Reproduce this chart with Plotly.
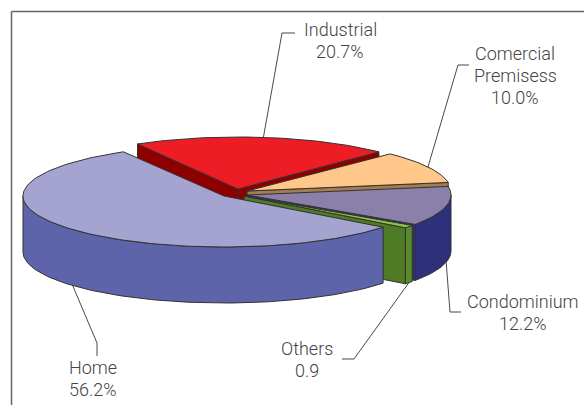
import math
import plotly.graph_objects as go

# ---- data ----
names = ["Home", "Others", "Condominium", "Comercial<br>Premisess", "Industrial"]
values = [56.2, 0.9, 12.2, 10.0, 20.7]
value_labels = ["56.2%", "0.9", "12.2%", "10.0%", "20.7%"]

# ---- pie geometry (pixel-based scene) ----
START_DEG = 120.0
DEPTH = 56
RX, RY = 204, 52
centers = [(224, 196), (244, 196), (247, 195), (247, 191), (238, 189)]
radii = [(201, 51), (RX, RY), (RX, RY), (RX, RY), (201, RY)]
top_col = ["#A5A3CF", "#8CC63F", "#8A80AA", "#FFC88A", "#EE1C25"]
wall_col = ["#5D64AA", "#5A8A2A", "#2E307A", "#A47C50", "#8E0000"]
cut_col = ["#5D64AA", "#4F7A26", "#2E307A", "#A47C50", "#8E0000"]
OUT = "#333333"

spans = []
a = START_DEG
for v in values:
    b = a + v / sum(values) * 360.0
    spans.append((a, b))
    a = b


def pt(i, deg, drop=0):
    cx, cy = centers[i]
    rx, ry = radii[i]
    t = math.radians(deg)
    return cx + rx * math.cos(t), cy - ry * math.sin(t) + drop


def arc(i, d0, d1, drop=0):
    n = max(2, int(abs(d1 - d0) / 1.5) + 2)
    return [pt(i, d0 + (d1 - d0) * k / (n - 1), drop) for k in range(n)]


fig = go.Figure()


def poly(points, fill, width=1.0):
    xs = [p[0] for p in points] + [points[0][0]]
    ys = [p[1] for p in points] + [points[0][1]]
    fig.add_trace(go.Scatter(x=xs, y=ys, mode="lines", fill="toself", fillcolor=fill,
                             line=dict(color=OUT, width=width), hoverinfo="skip",
                             showlegend=False))


def line(points, color="#333333", width=0.9):
    fig.add_trace(go.Scatter(x=[p[0] for p in points], y=[p[1] for p in points], mode="lines",
                             line=dict(color=color, width=width), hoverinfo="skip",
                             showlegend=False))


def cut_face(i, deg):
    c = centers[i]
    p = pt(i, deg)
    poly([c, p, (p[0], p[1] + DEPTH), (c[0], c[1] + DEPTH)], cut_col[i])


def wall(i, d0, d1):
    poly(arc(i, d0, d1) + arc(i, d1, d0, DEPTH), wall_col[i])


def top(i):
    a0, a1 = spans[i]
    poly([centers[i]] + arc(i, a0, a1), top_col[i])


HOME, OTHERS, CONDO, COMM, IND = 0, 1, 2, 3, 4

# back to front
cut_face(IND, spans[IND][1])
cut_face(IND, spans[IND][0])
top(IND)
cut_face(COMM, spans[COMM][0])
top(COMM)
cut_face(CONDO, spans[CONDO][0])
wall(CONDO, spans[CONDO][0], 360)
top(CONDO)
cut_face(OTHERS, spans[OTHERS][0])
wall(OTHERS, spans[OTHERS][0], spans[OTHERS][1])
top(OTHERS)
wall(HOME, 180, spans[HOME][1])
top(HOME)

# leader lines start at each slice's mid-angle on the rim
elbows = {
    HOME: ([(97, 343), (97, 356)], DEPTH),
    OTHERS: ([(354, 359), (342, 359)], DEPTH),
    CONDO: ([(450, 312), (461, 312)], DEPTH),
    COMM: ([(458, 65), (469, 65)], 0),
    IND: ([(282, 33), (295, 33)], 0),
}
for i, (pts, drop) in elbows.items():
    mid = sum(spans[i]) / 2
    line([pt(i, mid, drop)] + pts)

# label centre x and y of the first line
label_pos = [(93, 367), (307, 348), (523, 301), (515, 53), (340, 29)]
LINE_GAP = 22
annotations = []
for n, vl, (x, y) in zip(names, value_labels, label_pos):
    for k, part in enumerate(n.split("<br>") + [vl]):
        annotations.append(dict(x=x, y=y + k * LINE_GAP, text=part, showarrow=False,
                                xanchor="center", yanchor="middle", align="center",
                                font=dict(family="Roboto Light, Roboto", size=18, color="#444444")))

# frame
shapes = [dict(type="line", x0=11.5, x1=11.5, y0=11.5, y1=405, line=dict(color="#666666", width=1.5)),
          dict(type="line", x0=11.5, x1=584, y0=11.5, y1=11.5, line=dict(color="#666666", width=1.5))]

fig.update_layout(width=584, height=405, margin=dict(l=0, r=0, t=0, b=0),
                  paper_bgcolor="white", plot_bgcolor="white", showlegend=False,
                  xaxis=dict(range=[0, 584], visible=False, fixedrange=True),
                  yaxis=dict(range=[405, 0], visible=False, fixedrange=True),
                  annotations=annotations, shapes=shapes)
fig.write_html("out.html", config=dict(displayModeBar=False),
               post_script="document.body.style.margin='0';")
